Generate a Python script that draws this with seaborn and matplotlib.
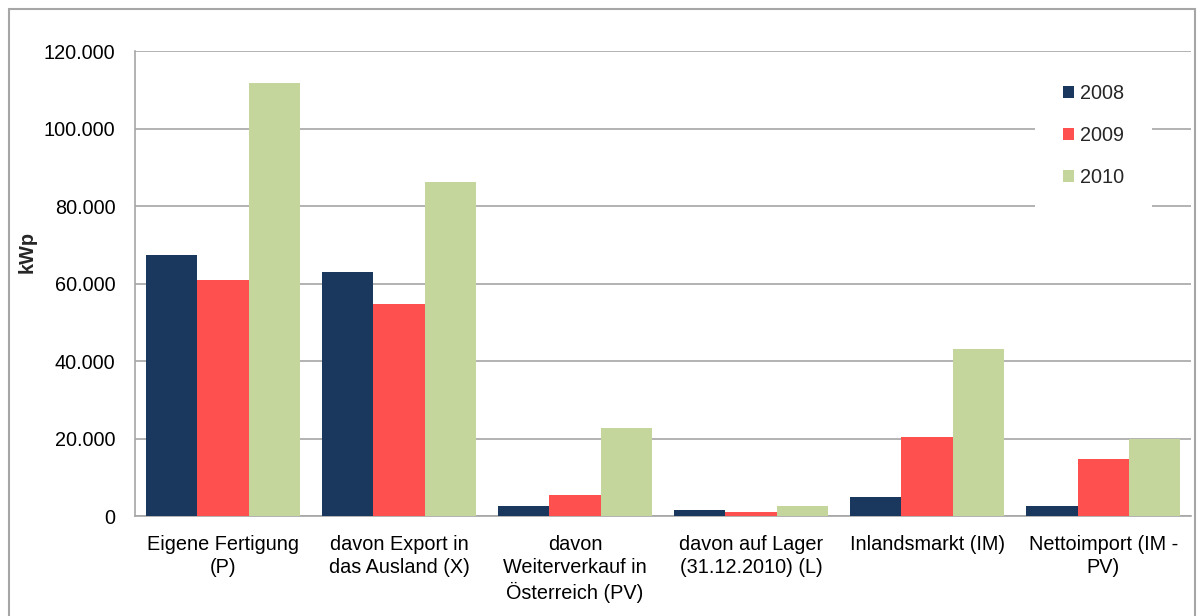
import matplotlib
matplotlib.use("Agg")
import matplotlib.pyplot as plt
from matplotlib.patches import Rectangle
from matplotlib.ticker import FuncFormatter
import pandas as pd
import seaborn as sns

categories = [
    "Eigene Fertigung\n(P)",
    "davon Export in\ndas Ausland (X)",
    "davon\nWeiterverkauf in\nÖsterreich (PV)",
    "davon auf Lager\n(31.12.2010) (L)",
    "Inlandsmarkt (IM)",
    "Nettoimport (IM -\nPV)",
]
years = ["2008", "2009", "2010"]
kwp_2008 = [67300, 62900, 2500, 1500, 4900, 2500]
kwp_2009 = [61000, 54700, 5400, 1000, 20400, 14600]
kwp_2010 = [111700, 86100, 22800, 2500, 43000, 19800]
colors = ["#1a375e", "#ff5050", "#c4d69b"]

rows = []
for year, vals in zip(years, [kwp_2008, kwp_2009, kwp_2010]):
    for cat, v in zip(categories, vals):
        rows.append({"Kategorie": cat, "Jahr": year, "kWp": v})
df = pd.DataFrame(rows)

sns.set_style("white")
plt.rcParams["font.family"] = ["Liberation Sans", "DejaVu Sans"]
fs = 14.3

fig = plt.figure(figsize=(12.03, 6.16), dpi=100)
ax = fig.add_axes([0.1122, 0.1623, 0.878, 0.7547])

sns.barplot(data=df, x="Kategorie", y="kWp", hue="Jahr", palette=colors,
            width=0.875, saturation=1, linewidth=0, ax=ax, zorder=3)

ax.set_ylim(0, 120000)
ax.set_yticks(range(0, 120001, 20000))
ax.yaxis.set_major_formatter(FuncFormatter(lambda v, p: f"{int(v):,}".replace(",", ".")))
ax.grid(axis="y", color="#a6a6a6", linewidth=1.2, zorder=0)
ax.set_axisbelow(True)
for side in ["top", "right"]:
    ax.spines[side].set_visible(False)
for side in ["left", "bottom"]:
    ax.spines[side].set_color("#a6a6a6")
    ax.spines[side].set_linewidth(1.2)

ax.tick_params(axis="both", length=0, labelsize=fs, colors="black")
ax.tick_params(axis="x", pad=14)
ax.tick_params(axis="y", pad=14)
for lbl in ax.get_xticklabels():
    lbl.set_linespacing(1.25)
ax.set_xlabel("")
ax.set_ylabel("kWp", fontsize=fs, fontweight="bold")
ax.yaxis.set_label_coords(-0.0928, 0.568)

leg = ax.legend(loc="upper left", bbox_to_anchor=(0.852, 0.989), borderaxespad=0,
                frameon=True, fontsize=fs, handlelength=0.55, handleheight=0.55,
                handletextpad=0.3, labelspacing=1.15, borderpad=1.4)
leg.get_frame().set_facecolor("white")
leg.get_frame().set_edgecolor("none")
leg.get_frame().set_alpha(1)

fig.patches.append(Rectangle((9 / 1203, -0.05), 1186 / 1203, (607 / 616) + 0.05,
                             transform=fig.transFigure, fill=False,
                             edgecolor="#a6a6a6", linewidth=1.5))

fig.savefig("out.png", dpi=100, facecolor="white")
